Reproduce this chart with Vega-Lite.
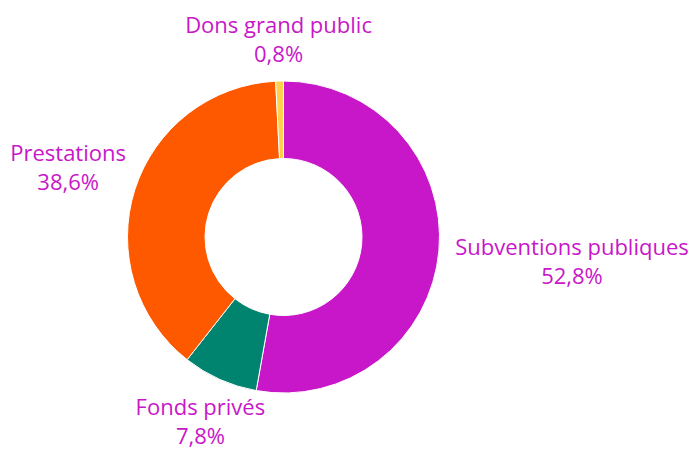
{
  "$schema": "https://vega.github.io/schema/vega-lite/v6.json",
  "autosize": "none",
  "padding": {"left": 0, "top": 17, "right": 124, "bottom": 0},
  "width": 567,
  "height": 440,
  "background": "white",
  "view": {"stroke": null},
  "data": {
    "values": [
      {"idx": 1, "name": "Subventions publiques", "pct": "52,8%", "share": 52.8},
      {"idx": 2, "name": "Fonds privés", "pct": "7,8%", "share": 7.8},
      {"idx": 3, "name": "Prestations", "pct": "38,6%", "share": 38.6},
      {"idx": 4, "name": "Dons grand public", "pct": "0,8%", "share": 0.8}
    ]
  },
  "transform": [
    {"calculate": "datum.name + '\\n' + datum.pct", "as": "label"}
  ],
  "encoding": {
    "theta": {"field": "share", "type": "quantitative", "stack": true},
    "order": {"field": "idx", "type": "quantitative"}
  },
  "layer": [
    {
      "mark": {"type": "arc", "outerRadius": 156, "innerRadius": 78.5, "stroke": "white", "strokeWidth": 1},
      "encoding": {
        "color": {
          "field": "name",
          "type": "nominal",
          "scale": {
            "domain": ["Subventions publiques", "Fonds privés", "Prestations", "Dons grand public"],
            "range": ["#C817C8", "#00846F", "#FF5900", "#FFD04A"]
          },
          "legend": null
        }
      }
    },
    {
      "mark": {
        "type": "text",
        "font": "Open Sans",
        "fontSize": 22,
        "fontWeight": 500,
        "color": "#C817C8",
        "align": "center",
        "baseline": "middle",
        "lineBreak": "\n",
        "lineHeight": 29,
        "dy": -14.5,
        "radius": {"expr": "197 + pow(sin(PI*(datum.share_start+datum.share_end)/100),2)*(6.14*length(datum.name)-35.6)"}
      },
      "encoding": {
        "text": {"field": "label", "type": "nominal"}
      }
    }
  ]
}
